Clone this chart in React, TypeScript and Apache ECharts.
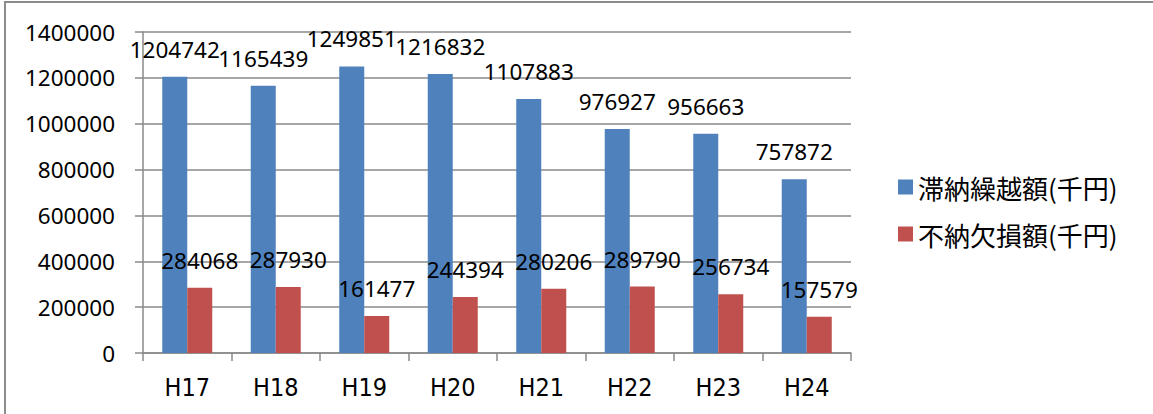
import React, { useEffect, useRef } from "react";
import * as echarts from "echarts";

const categories = ["H17", "H18", "H19", "H20", "H21", "H22", "H23", "H24"];
const seriesNames = ["滞納繰越額(千円)", "不納欠損額(千円)"];
const arrears = [1204742, 1165439, 1249851, 1216832, 1107883, 976927, 956663, 757872];
const writeOffs = [284068, 287930, 161477, 244394, 280206, 289790, 256734, 157579];
const yMin = 0;
const yMax = 1400000;
const yInterval = 200000;

export default function App() {
  const ref = useRef<HTMLDivElement>(null);
  useEffect(() => {
    document.body.style.margin = "0";
    if (!ref.current) return;
    const chart = echarts.init(ref.current, null, { renderer: "svg" });
    const numFont = "'Noto Sans', 'Liberation Sans', Arial, sans-serif";
    const gridColor = "#8a8a8a";
    const labelStyle = {
      show: true,
      position: "top" as const,
      distance: 16,
      fontSize: 22.5,
      color: "#000",
      fontFamily: numFont,
    };
    chart.setOption({
      animation: false,
      backgroundColor: "#fff",
      graphic: [
        {
          type: "rect",
          shape: { x: 5, y: 2, width: 1200, height: 500 },
          style: { fill: "none", stroke: "#8c8c8c", lineWidth: 2 },
          silent: true,
        },
      ],
      grid: { left: 143, right: 302, top: 32, bottom: 61, containLabel: false },
      legend: {
        orient: "vertical",
        left: 893,
        top: 169,
        itemWidth: 15,
        itemHeight: 15,
        itemGap: 21,
        icon: "rect",
        textStyle: {
          fontSize: 26,
          color: "#000",
          fontFamily: "'Noto Sans CJK JP', sans-serif",
        },
        data: seriesNames,
      },
      xAxis: {
        type: "category",
        data: categories,
        boundaryGap: true,
        axisLine: { show: true, lineStyle: { color: gridColor, width: 1.5 } },
        axisTick: { show: true, length: 8, lineStyle: { color: gridColor, width: 1.5 } },
        axisLabel: {
          margin: 22,
          fontSize: 25,
          color: "#000",
          fontFamily: "'Liberation Sans Narrow', 'DejaVu Sans Condensed', 'Roboto', sans-serif",
        },
      },
      yAxis: {
        type: "value",
        min: yMin,
        max: yMax,
        interval: yInterval,
        axisLine: { show: true, lineStyle: { color: gridColor, width: 1.5 } },
        axisTick: { show: true, length: 8, lineStyle: { color: gridColor, width: 1.5 } },
        splitLine: { show: true, lineStyle: { color: gridColor, width: 1.5 } },
        axisLabel: {
          margin: 28,
          fontSize: 22.5,
          color: "#000",
          fontFamily: numFont,
          formatter: (v: number) => String(v),
        },
      },
      series: [
        {
          name: seriesNames[0],
          type: "bar",
          data: arrears,
          barGap: "0%",
          barCategoryGap: "43.5%",
          itemStyle: { color: "#4F81BD" },
          label: labelStyle,
        },
        {
          name: seriesNames[1],
          type: "bar",
          data: writeOffs,
          barGap: "0%",
          barCategoryGap: "43.5%",
          itemStyle: { color: "#C0504D" },
          label: labelStyle,
        },
      ],
    });
    return () => chart.dispose();
  }, []);
  return <div ref={ref} style={{ width: 1153, height: 414 }} />;
}
